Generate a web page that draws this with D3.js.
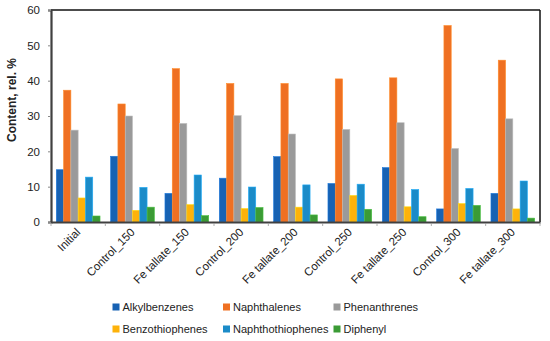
<!DOCTYPE html>
<html>
<head>
<meta charset="utf-8">
<script src="https://cdn.jsdelivr.net/npm/d3@7"></script>
<style>
  body { margin: 0; background: #fff; }
  text { font-family: "Liberation Sans", Arial, sans-serif; fill: #222; }
</style>
</head>
<body>
<svg id="chart" width="550" height="341"></svg>
<script>
var categories = ["Initial", "Control_150", "Fe tallate_150", "Control_200", "Fe tallate_200",
    "Control_250", "Fe tallate_250", "Control_300", "Fe tallate_300"];
var seriesNames = ["Alkylbenzenes", "Naphthalenes", "Phenanthrenes",
    "Benzothiophenes", "Naphthothiophenes", "Diphenyl"];
var colors = ["#1762b3", "#ef7022", "#9a9a9a", "#fdb20a", "#1b8bc8", "#3b9b35"];

var alkylbenzenes     = [14.8, 18.6,  8.1, 12.4, 18.5, 10.9, 15.4,  3.7,  8.1];
var naphthalenes      = [37.3, 33.4, 43.4, 39.2, 39.2, 40.5, 40.8, 55.6, 45.8];
var phenanthrenes     = [26.0, 30.0, 27.9, 30.1, 24.9, 26.2, 28.1, 20.8, 29.2];
var benzothiophenes   = [ 6.8,  3.3,  4.9,  3.8,  4.2,  7.5,  4.3,  5.2,  3.7];
var naphthothiophenes = [12.7,  9.8, 13.3,  9.9, 10.5, 10.7,  9.2,  9.5, 11.6];
var diphenyl          = [ 1.7,  4.2,  1.8,  4.1,  2.0,  3.6,  1.5,  4.7,  1.1];
var yTicks = [0, 10, 20, 30, 40, 50, 60];

var series = [alkylbenzenes, naphthalenes, phenanthrenes, benzothiophenes, naphthothiophenes, diphenyl];

var plotLeft = 51, plotRight = 540, plotTop = 10, plotBottom = 222;
var svg = d3.select("#chart");

var x = d3.scaleBand().domain(categories).range([plotLeft, plotRight]).paddingInner(0).paddingOuter(0);
var xIn = d3.scaleBand().domain(d3.range(series.length)).range([5.3, x.bandwidth() - 5.3]);
var y = d3.scaleLinear().domain([0, 60]).range([plotBottom, plotTop]);

// bars
var groups = svg.selectAll("g.cat")
    .data(categories)
    .enter().append("g")
    .attr("class", "cat")
    .attr("transform", function (d) { return "translate(" + x(d) + ",0)"; });

groups.selectAll("rect")
    .data(function (d, i) { return series.map(function (s, k) { return { k: k, v: s[i] }; }); })
    .enter().append("rect")
    .attr("x", function (d) { return xIn(d.k); })
    .attr("width", xIn.bandwidth())
    .attr("y", function (d) { return y(d.v); })
    .attr("height", function (d) { return y(0) - y(d.v); })
    .attr("fill", function (d) { return colors[d.k]; })
    .attr("stroke", function (d) { return d3.color(colors[d.k]).brighter(0.6); })
    .attr("stroke-width", 0.6);

// frame
svg.append("line").attr("x1", plotLeft).attr("x2", plotRight).attr("y1", plotTop).attr("y2", plotTop)
    .attr("stroke", "#111").attr("stroke-width", 1.5);
svg.append("line").attr("x1", plotRight).attr("x2", plotRight).attr("y1", plotTop).attr("y2", plotBottom)
    .attr("stroke", "#111").attr("stroke-width", 1.5);

// y axis
var yAxis = svg.append("g")
    .attr("transform", "translate(" + plotLeft + ",0)")
    .call(d3.axisLeft(y).tickValues(yTicks).tickSize(3).tickPadding(8));
yAxis.select(".domain").attr("stroke", "#404040").attr("stroke-width", 2.2);
yAxis.selectAll(".tick line").attr("stroke", "#888");
yAxis.selectAll("text").style("font-size", "11.5px").attr("fill", "#222");

// x axis
var xAxis = svg.append("g")
    .attr("transform", "translate(0," + plotBottom + ")")
    .call(d3.axisBottom(x).tickSize(0).tickFormat(""));
xAxis.select(".domain").attr("stroke", "#404040").attr("stroke-width", 2.2);
svg.append("g").selectAll("line")
    .data(d3.range(categories.length + 1))
    .enter().append("line")
    .attr("x1", function (i) { return plotLeft + i * x.bandwidth(); })
    .attr("x2", function (i) { return plotLeft + i * x.bandwidth(); })
    .attr("y1", plotBottom + 1).attr("y2", plotBottom + 4)
    .attr("stroke", "#999").attr("stroke-width", 0.8);

svg.append("g").selectAll("text")
    .data(categories)
    .enter().append("text")
    .attr("transform", function (d) {
        return "translate(" + (x(d) + x.bandwidth() / 2 + 3) + "," + (plotBottom + 11) + ") rotate(-45)";
    })
    .attr("text-anchor", "end")
    .style("font-size", "11.5px")
    .text(function (d) { return d; });

// y label
svg.append("text")
    .attr("transform", "translate(16,100) rotate(-90)")
    .attr("text-anchor", "middle")
    .style("font-size", "12px")
    .style("font-weight", "bold")
    .text("Content, rel. %");

// legend
var legend = svg.append("g").selectAll("g")
    .data(seriesNames)
    .enter().append("g")
    .attr("transform", function (d, i) {
        return "translate(" + (112.5 + (i % 3) * 110.5) + "," + (i < 3 ? 307 : 329) + ")";
    });
legend.append("rect")
    .attr("x", 0).attr("y", -3.5).attr("width", 7).attr("height", 7)
    .attr("fill", function (d, i) { return colors[i]; });
legend.append("text")
    .attr("x", 10).attr("dy", "0.35em")
    .style("font-size", "11px")
    .text(function (d) { return d; });
</script>
</body>
</html>
